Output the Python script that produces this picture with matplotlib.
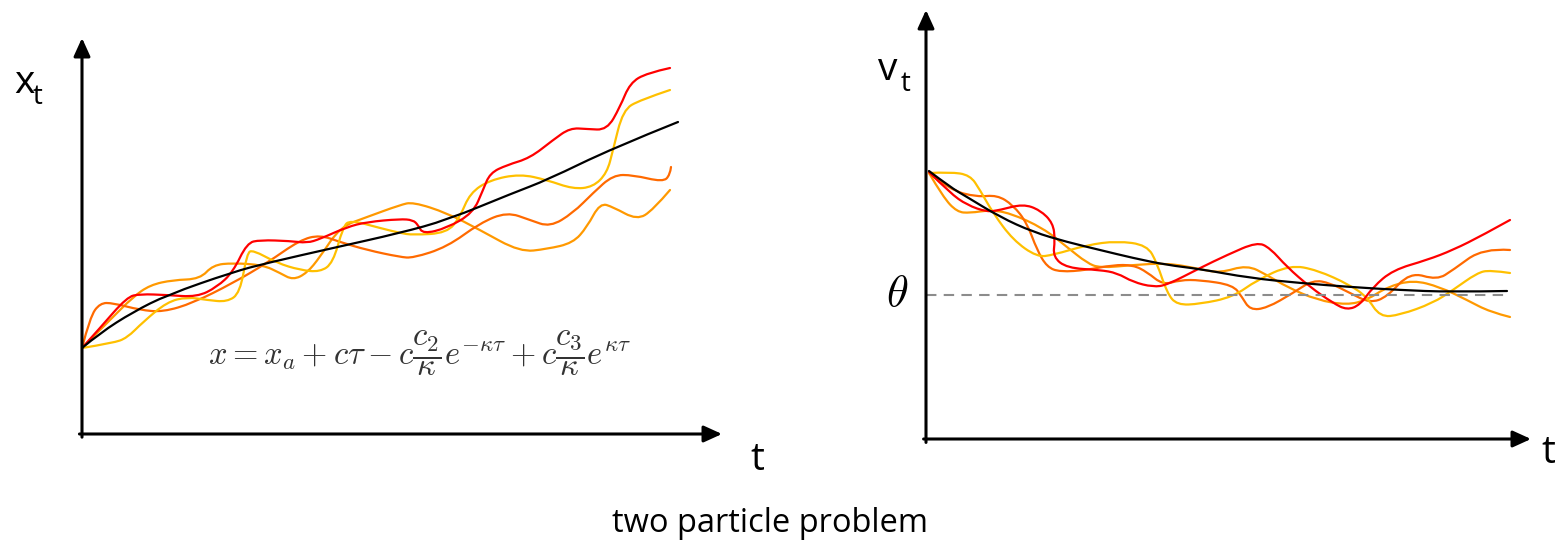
import matplotlib
matplotlib.use("Agg")
import matplotlib.pyplot as plt
from matplotlib.path import Path
from matplotlib.patches import PathPatch

plt.rcParams['font.family'] = ['Open Sans', 'DejaVu Sans']
plt.rcParams['mathtext.fontset'] = 'cm'

W, H = 1564, 544

# left panel: position x_t (t, height above the time axis)
x_black_t = [0, 18, 51, 85, 151, 185, 251, 318, 365, 431, 465, 531, 596]
x_black_v = [86, 101, 122, 139, 162, 171, 186, 201, 214, 241, 254, 286, 312]

x_red_t = [0, 18, 45, 58, 85, 115, 135, 151, 165, 178, 208, 225, 238, 265, 285, 318, 331, 336, 341,
           365, 391, 401, 408, 425, 448, 471, 488, 505, 525, 538, 548, 565, 588]
x_red_v = [86, 106, 137, 140, 139, 137, 147, 162, 191, 194, 193, 191, 195, 207, 212, 215, 214, 209, 200,
           206, 221, 244, 261, 269, 276, 294, 306, 305, 304, 327, 351, 361, 366]

x_yellow_t = [0, 31, 45, 61, 85, 105, 125, 145, 158, 165, 171, 195, 218, 238, 251, 261, 268, 298, 318,
              331, 365, 378, 388, 408, 438, 465, 491, 511, 525, 531, 541, 558, 588]
x_yellow_v = [86, 91, 96, 112, 132, 137, 134, 132, 141, 181, 184, 171, 164, 162, 171, 207, 214, 206, 201,
              199, 201, 217, 241, 254, 260, 254, 245, 247, 261, 284, 324, 334, 344]

x_orange_t = [0, 28, 51, 68, 91, 118, 131, 151, 181, 198, 211, 225, 238, 258, 285, 318, 331, 365, 398,
              438, 465, 491, 505, 518, 531, 555, 571, 588]
x_orange_v = [86, 114, 137, 149, 154, 155, 169, 171, 169, 161, 154, 161, 177, 207, 217, 229, 232, 221, 204,
              182, 185, 191, 207, 231, 227, 214, 224, 244]

x_dark_t = [0, 8, 18, 31, 58, 81, 111, 151, 185, 218, 238, 258, 285, 318, 331, 365, 398, 425, 448,
            468, 491, 511, 531, 551, 581, 588, 589]
x_dark_v = [86, 117, 131, 131, 124, 122, 131, 151, 171, 194, 199, 192, 184, 177, 176, 187, 211, 222, 214,
            207, 221, 241, 259, 259, 252, 259, 267]

# right panel: velocity v_t
v_black_t = [3, 24, 41, 74, 107, 141, 174, 207, 241, 274, 324, 374, 424, 474, 524, 581]
v_black_v = [268, 252, 242, 222, 207, 197, 189, 181, 174, 170, 161, 156, 152, 149, 147, 148]

v_red_t = [3, 24, 41, 61, 74, 97, 114, 127, 129, 127, 141, 174, 191, 207, 227, 241, 274, 301, 331, 344,
           361, 384, 407, 421, 434, 447, 467, 501, 527, 557, 584]
v_red_v = [267, 246, 234, 227, 229, 235, 229, 216, 199, 182, 171, 169, 166, 157, 152, 154, 171, 184, 197, 191,
           172, 152, 136, 129, 134, 152, 169, 179, 189, 204, 219]

v_yellow_t = [3, 24, 44, 54, 67, 87, 111, 127, 161, 191, 221, 231, 241, 251, 274, 307, 331, 364, 391, 424,
              441, 454, 474, 507, 527, 551, 564, 584]
v_yellow_v = [266, 267, 264, 249, 226, 199, 182, 184, 194, 198, 194, 176, 146, 134, 135, 142, 159, 174, 169, 154,
              142, 122, 124, 136, 149, 166, 169, 166]

v_orange_t = [3, 17, 31, 44, 64, 84, 117, 141, 161, 174, 207, 241, 274, 294, 321, 341, 361, 391, 421, 441,
              461, 487, 514, 541, 564, 584]
v_orange_v = [266, 242, 227, 226, 229, 226, 211, 192, 176, 171, 174, 176, 170, 166, 174, 164, 152, 139, 134, 139,
              152, 159, 152, 139, 127, 122]

v_dark_t = [3, 24, 51, 71, 87, 101, 111, 121, 134, 161, 187, 207, 221, 237, 254, 274, 307, 316, 324, 341,
            367, 387, 404, 424, 444, 461, 484, 511, 527, 557, 584]
v_dark_v = [266, 249, 242, 244, 234, 216, 189, 172, 167, 169, 174, 174, 167, 154, 159, 159, 154, 142, 129, 131,
            146, 159, 156, 146, 136, 142, 167, 159, 169, 191, 189]

theta = 144
theta_end = 581

RED = '#ff0000'
YEL = '#ffc000'
ORA = '#ff9900'
DRK = '#ff6a00'


def px_axes(fig, left, top, right, bottom):
    return fig.add_axes([left / W, 1 - bottom / H, (right - left) / W, (bottom - top) / H])


def arrows(ax):
    style = dict(arrowstyle='-|>,head_length=0.55,head_width=0.25', mutation_scale=20,
                 lw=2.2, color='black', shrinkA=0, shrinkB=0)
    ax.annotate('', xy=(1, 0), xytext=(-0.004, 0), xycoords='axes fraction', arrowprops=style,
                annotation_clip=False)
    ax.annotate('', xy=(0, 1), xytext=(0, -0.008), xycoords='axes fraction', arrowprops=style,
                annotation_clip=False)
    ax.axis('off')


def smooth(ax, t, v, color):
    # quadratic bezier through midpoints, the read points act as control points
    pts = list(zip(t, v))
    verts = [pts[0]]
    codes = [Path.MOVETO]
    for i in range(1, len(pts) - 1):
        mid = ((pts[i][0] + pts[i + 1][0]) / 2, (pts[i][1] + pts[i + 1][1]) / 2)
        if i == len(pts) - 2:
            mid = pts[-1]
        verts += [pts[i], mid]
        codes += [Path.CURVE3, Path.CURVE3]
    ax.add_patch(PathPatch(Path(verts, codes), fill=False, edgecolor=color, lw=1.6,
                           joinstyle='round', capstyle='round'))


fig = plt.figure(figsize=(W / 100, H / 100), dpi=100)

ax1 = px_axes(fig, 82, 38, 722, 434)
ax1.set_xlim(0, 640)
ax1.set_ylim(0, 396)
smooth(ax1, x_orange_t, x_orange_v, ORA)
smooth(ax1, x_dark_t, x_dark_v, DRK)
smooth(ax1, x_yellow_t, x_yellow_v, YEL)
smooth(ax1, x_red_t, x_red_v, RED)
smooth(ax1, x_black_t, x_black_v, 'black')
arrows(ax1)

ax2 = px_axes(fig, 926, 10, 1531, 439)
ax2.set_xlim(0, 605)
ax2.set_ylim(0, 429)
ax2.plot([0, theta_end], [theta, theta], color='#8c8c8c', lw=1.5, ls=(0, (5, 3.5)))
smooth(ax2, v_orange_t, v_orange_v, ORA)
smooth(ax2, v_dark_t, v_dark_v, DRK)
smooth(ax2, v_yellow_t, v_yellow_v, YEL)
smooth(ax2, v_red_t, v_red_v, RED)
smooth(ax2, v_black_t, v_black_v, 'black')
arrows(ax2)


def ftext(x, y, s, **kw):
    fig.text(x / W, 1 - y / H, s, **kw)


ftext(14, 93, 'x', fontsize=28, ha='left', va='baseline')
ftext(33, 104, 't', fontsize=20, ha='left', va='baseline')
ftext(878, 80, 'v', fontsize=28, ha='left', va='baseline')
ftext(901, 91, 't', fontsize=20, ha='left', va='baseline')
ftext(757, 460, 't', fontsize=28, ha='center', va='center')
ftext(1548, 453, 't', fontsize=28, ha='center', va='center')
ftext(897, 295, r'$\theta$', fontsize=32, ha='center', va='center')
ftext(420, 353, r'$x = x_a + c\tau - c\dfrac{c_2}{\kappa}e^{-\kappa\tau} + c\dfrac{c_3}{\kappa}e^{\kappa\tau}$',
      fontsize=23.5, color='#333333', ha='center', va='center')
ftext(770, 524, 'two particle problem', fontsize=23.5, ha='center', va='center')

fig.savefig('out.png', dpi=100)
